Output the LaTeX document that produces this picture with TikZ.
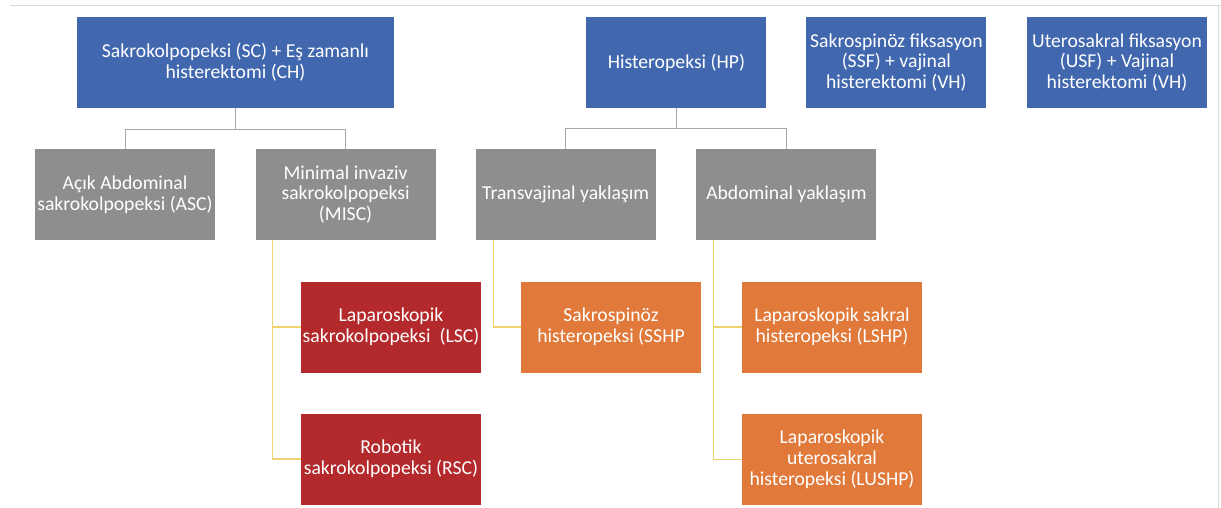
\documentclass[tikz,border=0pt]{standalone}
\usepackage{fontspec}
\setmainfont{Carlito}
\usepackage{tikz}
\usepackage{color}

\definecolor{boxblue}{HTML}{4167AF}
\definecolor{boxgray}{HTML}{8E8E8E}
\definecolor{boxred}{HTML}{B3292C}
\definecolor{boxorange}{HTML}{E0793A}
\definecolor{treegray}{HTML}{A8A8A8}
\definecolor{legyellow}{HTML}{F0D36E}
\definecolor{framegray}{HTML}{DADADA}

\begin{document}
\begin{tikzpicture}[
	  box/.style={minimum width=4.5cm, minimum height=2.275cm, inner sep=1pt, text=white, align=center, font=\fontsize{14}{14.8}\selectfont},
	  blue/.style={box, fill=boxblue},
	  gray/.style={box, fill=boxgray},
	  red/.style={box, fill=boxred},
	  orange/.style={box, fill=boxorange},
	  tree/.style={draw=treegray, line width=0.7pt},
	  leg/.style={draw=legyellow, line width=0.9pt}
	]
	  \useasboundingbox (0,0) rectangle (30.525,-12.7);
	  \draw[framegray, line width=0.8pt] (0.25,-0.13) -- (30.525,-0.13);
	  \draw[framegray, line width=0.5pt] (30.47,-0.13) -- (30.47,-12.7);

	  % Nodes
	  \node[blue, minimum width=7.925cm] (SC) at (5.8875,-1.5625) {Sakrokolpopeksi (SC) + Eş zamanlı\\histerektomi (CH)};
	  \node[blue] (HP) at (16.91,-1.5625) {Histeropeksi (HP)};
	  \node[blue] (SSF) at (22.41,-1.5625) {Sakrospinöz fiksasyon\\(SSF) + vajinal\\histerektomi (VH)};
	  \node[blue] (USF) at (27.925,-1.5625) {Uterosakral fiksasyon\\(USF) + Vajinal\\histerektomi (VH)};

	  \node[gray] (ASC) at (3.125,-4.8625) {Açık Abdominal\\sakrokolpopeksi (ASC)};
	  \node[gray] (MISC) at (8.64,-4.8625) {Minimal invaziv\\sakrokolpopeksi\\(MISC)};
	  \node[gray] (TV) at (14.14,-4.8625) {Transvajinal yaklaşım};
	  \node[gray] (AB) at (19.66,-4.8625) {Abdominal yaklaşım};

	  \node[red] (LSC) at (9.775,-8.175) {Laparoskopik\\sakrokolpopeksi\ \ (LSC)};
	  \node[red] (RSC) at (9.775,-11.475) {Robotik\\sakrokolpopeksi (RSC)};
	  \node[orange] (SSHP) at (15.275,-8.175) {Sakrospinöz\\histeropeksi (SSHP};
	  \node[orange] (LSHP) at (20.8,-8.175) {Laparoskopik sakral\\histeropeksi (LSHP)};
	  \node[orange] (LUSHP) at (20.8,-11.4875) {Laparoskopik\\uterosakral\\histeropeksi (LUSHP)};

	  % Connectors
	  \draw[tree] (SC.south) -- +(0,-0.52) -| (ASC.north);
	  \draw[tree] (SC.south) -- +(0,-0.52) -| (MISC.north);
	  \draw[tree] (HP.south) -- +(0,-0.5) -| (TV.north);
	  \draw[tree] (HP.south) -- +(0,-0.5) -| (AB.north);

	  \draw[leg] ([xshift=0.43cm]MISC.south west) |- (LSC.west);
	  \draw[leg] ([xshift=0.43cm]MISC.south west) |- (RSC.west);
	  \draw[leg] ([xshift=0.45cm]TV.south west) |- (SSHP.west);
	  \draw[leg] ([xshift=0.43cm]AB.south west) |- (LSHP.west);
	  \draw[leg] ([xshift=0.43cm]AB.south west) |- (LUSHP.west);
	\end{tikzpicture}
\end{document}
